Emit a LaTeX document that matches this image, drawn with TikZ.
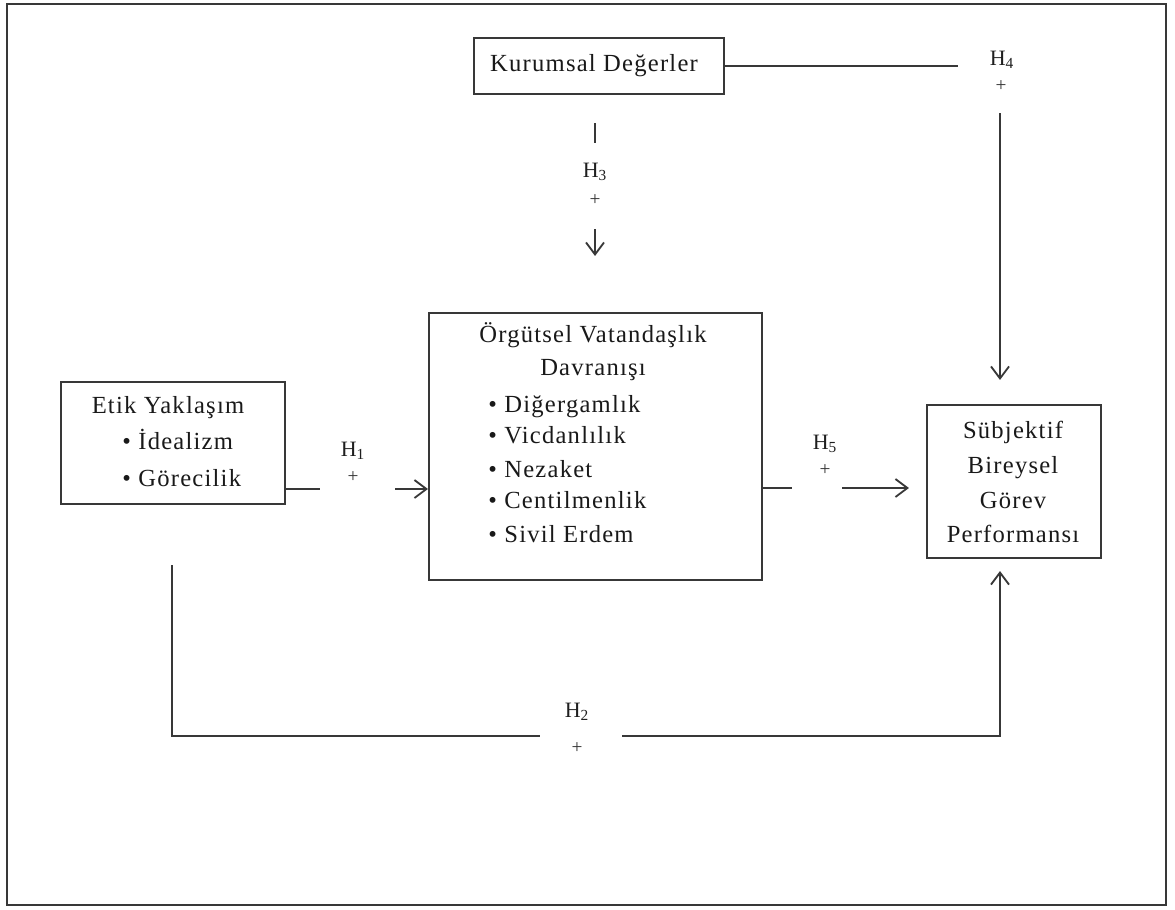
\documentclass[tikz,border=0pt]{standalone}
\usepackage{fontspec}
\setmainfont[LetterSpace=5]{Liberation Serif}
\usetikzlibrary{arrows.meta}
\begin{document}
\begin{tikzpicture}[x=0.02cm,y=-0.02cm,
  box/.style={draw=black!78, line width=1.2pt, inner sep=0pt},
  txt/.style={font=\fontsize{14}{16}\selectfont, text=black!90, inner sep=0pt, text height=9.5pt, text depth=3pt},
  hyp/.style={font=\fontsize{12.5}{14}\selectfont, text=black!88, inner sep=0pt},
  pls/.style={font=\fontsize{11}{12}\selectfont, text=black!80, inner sep=0pt},
  link/.style={draw=black!78, line width=1.05pt},
  arr/.style={link, -{Straight Barb[length=2.4mm,width=3.6mm]}}]
\useasboundingbox (0,0) rectangle (1175,909);

% outer frame
\node[box, minimum width=23.18cm, minimum height=18.02cm] (frame) at (586.5,454.5) {};

% boxes
\node[box, minimum width=5cm, minimum height=1.12cm] (kur) at (599,66) {};
\node[box, minimum width=6.66cm, minimum height=5.34cm] (ovd) at (595.5,446.5) {};
\node[box, minimum width=4.48cm, minimum height=2.44cm] (etik) at (173,443) {};
\node[box, minimum width=3.48cm, minimum height=3.06cm] (sub) at (1014,481.5) {};

% box texts
\node[txt] (kurt) at (594,66) {Kurumsal Değerler};

\node[txt] (ovd1) at (593,337) {Örgütsel Vatandaşlık};
\node[txt] (ovd2) at (593,370) {Davranışı};
\node[txt, anchor=west] (ovd3) at (488,407) {\textbullet\ Diğergamlık};
\node[txt, anchor=west] (ovd4) at (488,438) {\textbullet\ Vicdanlılık};
\node[txt, anchor=west] (ovd5) at (488,472) {\textbullet\ Nezaket};
\node[txt, anchor=west] (ovd6) at (488,503) {\textbullet\ Centilmenlik};
\node[txt, anchor=west] (ovd7) at (488,537) {\textbullet\ Sivil Erdem};

\node[txt] (etik1) at (168,408) {Etik Yaklaşım};
\node[txt, anchor=west] (etik2) at (122,444) {\textbullet\ İdealizm};
\node[txt, anchor=west] (etik3) at (122,481) {\textbullet\ Görecilik};

\node[txt] (sub1) at (1013,433) {Sübjektif};
\node[txt] (sub2) at (1013,468) {Bireysel};
\node[txt] (sub3) at (1013,503) {Görev};
\node[txt] (sub4) at (1013,537) {Performansı};

% H1
\coordinate (h1a) at (320,489);
\coordinate (h1b) at (395,489);
\draw[link] (etik.east |- h1a) -- (h1a);
\draw[arr] (h1b) -- (ovd.west |- h1b);
\node[hyp] (h1) at (353,451) {H\textsubscript{1}};
\node[pls] (h1p) at (353,477) {+};

% H5
\coordinate (h5a) at (792,488);
\coordinate (h5b) at (842,488);
\draw[link] (ovd.east |- h5a) -- (h5a);
\draw[arr, shorten >=0.34cm] (h5b) -- (sub.west |- h5b);
\node[hyp] (h5) at (825,444) {H\textsubscript{5}};
\node[pls] (h5p) at (825,470) {+};

% H4
\coordinate (h4a) at (958,65);
\coordinate (h4b) at (1000,113);
\draw[link] (kur.east) -- (kur.east -| h4a);
\draw[arr, shorten >=0.48cm] (h4b) -- (h4b |- sub.north);
\node[hyp] (h4) at (1002,60) {H\textsubscript{4}};
\node[pls] (h4p) at (1001,86) {+};

% H3
\coordinate (h3a) at (595,123);
\coordinate (h3b) at (595,143);
\coordinate (h3c) at (595,229);
\draw[link] (h3a) -- (h3b);
\draw[arr, shorten >=1.12cm] (h3c) -- (h3c |- ovd.north);
\node[hyp] (h3) at (595,172) {H\textsubscript{3}};
\node[pls] (h3p) at (595,200) {+};

% H2
\coordinate (h2a) at (172,565);
\coordinate (h2b) at (540,736);
\coordinate (h2c) at (622,736);
\draw[link] (h2a) |- (h2b);
\draw[arr, shorten >=0.24cm] (h2c) -| (h4b |- sub.south);
\node[hyp] (h2) at (577,712) {H\textsubscript{2}};
\node[pls] (h2p) at (577,748) {+};
\end{tikzpicture}
\end{document}
